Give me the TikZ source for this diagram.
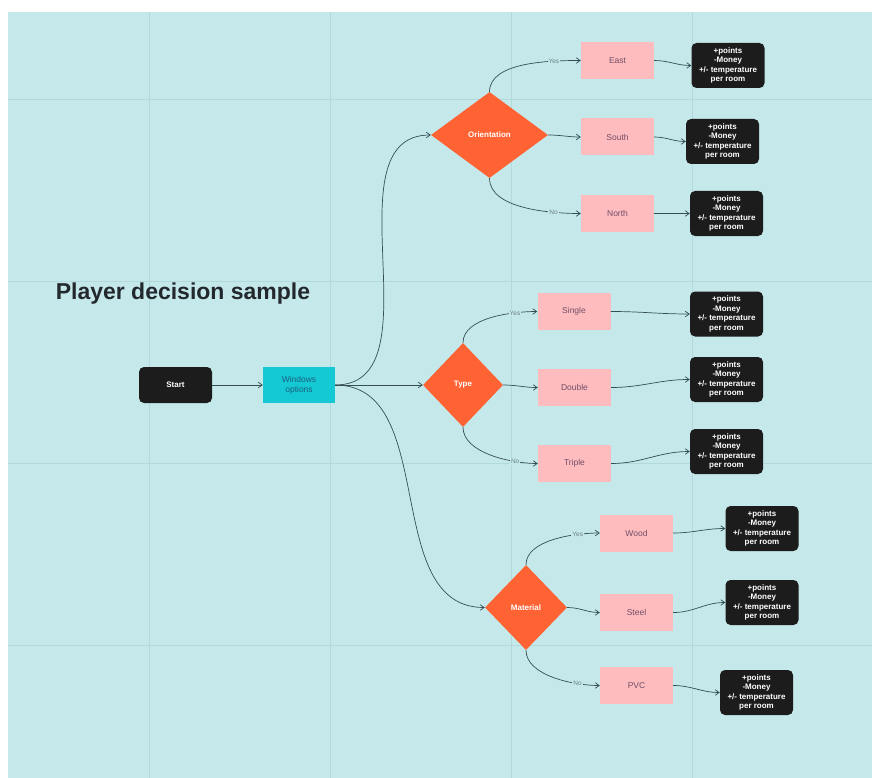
\documentclass[tikz,border=0pt]{standalone}
\usepackage{fontspec}
\setmainfont{Liberation Sans}
\usetikzlibrary{arrows.meta,shapes.geometric}
\definecolor{canvas}{RGB}{197,233,235}
\definecolor{gridline}{RGB}{178,218,221}
\definecolor{flame}{RGB}{255,99,51}
\definecolor{blush}{RGB}{255,188,190}
\definecolor{aqua}{RGB}{20,200,212}
\definecolor{ink}{RGB}{28,28,28}
\definecolor{wire}{RGB}{52,78,84}
\definecolor{mauve}{RGB}{112,78,104}
\definecolor{tealtxt}{RGB}{28,96,128}
\definecolor{labelgrey}{RGB}{108,128,130}
\definecolor{titleink}{RGB}{35,40,45}

\begin{document}
\begin{tikzpicture}[x=1pt,y=1pt,
  every node/.style={font=\fontsize{8.5}{10}\selectfont},
  startbox/.style={fill=ink,rounded corners=5pt,minimum width=73pt,minimum height=36pt,
                   text=white,font=\fontsize{8}{10}\selectfont\bfseries},
  menubox/.style={fill=aqua,minimum width=72pt,minimum height=36pt,text=tealtxt,align=center},
  choice/.style={diamond,fill=flame,inner sep=0pt,text=white,
                 font=\fontsize{8}{10}\selectfont\bfseries},
  option/.style={fill=blush,minimum width=73pt,minimum height=37pt,text=mauve},
  effect/.style={fill=ink,rounded corners=5pt,minimum width=73pt,minimum height=45pt,
                 inner sep=1pt,text=white,align=center,font=\fontsize{8}{9.6}\selectfont\bfseries},
  link/.style={-{Straight Barb[length=4pt,width=5.5pt]},wire,line width=0.7pt},
  yn/.style={fill=canvas,inner sep=1pt,text=labelgrey,font=\fontsize{6.5}{7}\selectfont}]

% --- canvas and grid
\useasboundingbox (0,0) rectangle (872,-778);
\fill[white] (0,0) rectangle (872,-778);
\fill[canvas] (8,-12) rectangle (872,-778);
\foreach \gx in {149,330,511,692} \draw[gridline] (\gx,-12) -- (\gx,-778);
\foreach \gy in {99,281,463,645} \draw[gridline] (8,-\gy) -- (872,-\gy);

\node[text=titleink,font=\fontsize{23}{27}\selectfont\bfseries] (title) at (183,-294) {Player decision sample};

% --- 1. start and menu
\node[startbox] (start) at (175.5,-385) {Start};
\node[menubox] (win) at (299,-385) {Windows\\options};

% --- 2. decisions
\node[choice,minimum width=117pt,minimum height=86pt] (ori) at (489.5,-135) {Orientation};
\node[choice,minimum width=80pt,minimum height=84pt] (typ) at (463,-385) {Type};
\node[choice,minimum width=82pt,minimum height=85pt] (mat) at (526,-607.5) {Material};

% --- 3. options
\node[option] (oEast)   at (617.5,-60.5)  {East};
\node[option] (oSouth)  at (617.5,-137)   {South};
\node[option] (oNorth)  at (617.5,-213.5) {North};
\node[option] (tSingle) at (574,-311.5)   {Single};
\node[option] (tDouble) at (574.5,-387.5) {Double};
\node[option] (tTriple) at (574.5,-463.5) {Triple};
\node[option] (mWood)   at (636.5,-533)   {Wood};
\node[option] (mSteel)  at (636.5,-612.5) {Steel};
\node[option] (mPVC)    at (636.5,-685.5) {PVC};

% --- 4. effects
\foreach \n/\x/\y in {1/728/65.5, 2/722.5/141.5, 3/726.5/213.5, 4/726.5/314, 5/726.5/379.5,
                      6/726.5/451.5, 7/762/528.5, 8/762/602.5, 9/756.5/692.5}
  \node[effect] (fx\n) at (\x,-\y) {+points\\-Money\\+/- temperature\\per room};

% --- connectors
\draw[link] (start) -- (win);
\draw[link] (win.east) to[out=0,in=180] (ori.west);
\draw[link] (win.east) -- (typ.west);
\draw[link] (win.east) to[out=0,in=180] (mat.west);

\draw[link] (ori.north) to[out=90,in=180,looseness=.8] node[yn,pos=.75] {Yes} (oEast.west);
\draw[link] (ori.east) to[out=0,in=180] (oSouth.west);
\draw[link] (ori.south) to[out=-90,in=180,looseness=.8] node[yn,pos=.75] {No} (oNorth.west);

\draw[link] (typ.north) to[out=90,in=180,looseness=.8] node[yn,pos=.75] {Yes} (tSingle.west);
\draw[link] (typ.east) to[out=0,in=180] (tDouble.west);
\draw[link] (typ.south) to[out=-90,in=180,looseness=.8] node[yn,pos=.75] {No} (tTriple.west);

\draw[link] (mat.north) to[out=90,in=180,looseness=.8] node[yn,pos=.75] {Yes} (mWood.west);
\draw[link] (mat.east) to[out=0,in=180] (mSteel.west);
\draw[link] (mat.south) to[out=-90,in=180,looseness=.8] node[yn,pos=.75] {No} (mPVC.west);

\foreach \o/\n in {oEast/1, oSouth/2, oNorth/3, tSingle/4, tDouble/5, tTriple/6, mWood/7, mSteel/8, mPVC/9}
  \draw[link] (\o.east) to[out=0,in=180] (fx\n.west);
\end{tikzpicture}
\end{document}
